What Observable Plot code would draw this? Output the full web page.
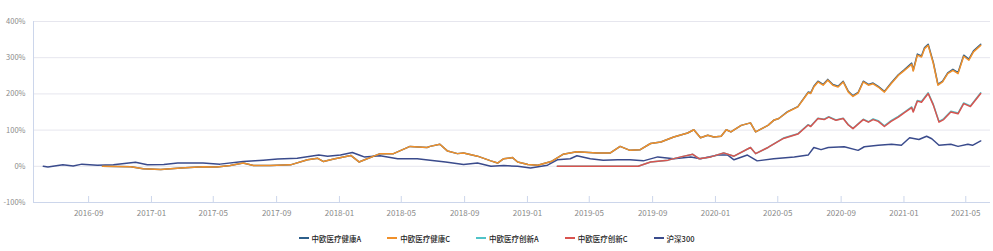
<!DOCTYPE html>
<html><head><meta charset="utf-8">
<script src="https://cdn.jsdelivr.net/npm/d3@7"></script>
<script src="https://cdn.jsdelivr.net/npm/@observablehq/plot@0.6"></script>
<style>
body{margin:0;background:#fff;font-family:"Noto Sans CJK SC","Noto Sans",sans-serif;}
#legend{display:flex;justify-content:center;gap:26px;height:26px;align-items:center;font-size:7.5px;color:#222;width:993px;font-weight:500}
.item{display:flex;align-items:center;gap:3px;white-space:nowrap}
.sw{width:10px;height:2px;display:inline-block}
</style></head><body><div id="chart"></div><div id="legend"></div>
<script>
const seriesNames = ["中欧医疗健康A","中欧医疗健康C","中欧医疗创新A","中欧医疗创新C","沪深300"];
const seriesColors = ["#2d5f8b","#f0902a","#4fc3c8","#d9534f","#3a4b8c"];
const yTicks = [-100,0,100,200,300,400];
const xTickLabels = ["2016-09","2017-01","2017-05","2017-09","2018-01","2018-05","2018-09","2019-01","2019-05","2019-09","2020-01","2020-05","2020-09","2021-01","2021-05"];
const xDomain = ["2016-05-17","2021-06-18"];

const hs300Dates = ["2016-06-05","2016-06-14","2016-07-13","2016-08-02","2016-08-19","2016-09-18","2016-10-19","2016-12-01","2016-12-24","2017-01-25","2017-02-21","2017-04-11","2017-05-14","2017-06-28","2017-08-06","2017-09-03","2017-10-11","2017-11-22","2017-12-09","2018-01-03","2018-01-26","2018-02-12","2018-02-18","2018-03-21","2018-04-24","2018-06-01","2018-06-26","2018-07-26","2018-08-30","2018-09-26","2018-10-22","2018-11-16","2018-12-13","2019-01-07","2019-02-09","2019-02-28","2019-03-25","2019-04-07","2019-05-03","2019-05-28","2019-06-25","2019-07-19","2019-08-14","2019-09-11","2019-10-12","2019-11-14","2019-12-03","2020-01-06","2020-01-25","2020-02-06","2020-03-03","2020-03-22","2020-04-23","2020-06-02","2020-06-29","2020-07-10","2020-07-24","2020-08-07","2020-09-07","2020-10-04","2020-10-16","2020-11-12","2020-12-08","2020-12-27","2021-01-12","2021-01-30","2021-02-14","2021-02-24","2021-03-10","2021-04-02","2021-04-16","2021-05-05","2021-05-14","2021-05-30"];
const hs300Values = [0,-2,4,1,6,3,4,11,4,5,9,9,6,13,17,20,22,31,28,31,38,29,26,29,21,21,17,12,5,9,0,2,0,-5,3,18,21,29,21,17,18,18,15,26,21,26,21,31,31,18,31,15,21,26,31,52,46,52,54,44,54,58,61,58,79,74,83,76,58,61,55,61,58,70];

const healthDates = ["2016-09-28","2016-11-22","2016-12-16","2017-01-19","2017-02-27","2017-04-11","2017-05-08","2017-06-03","2017-06-28","2017-07-18","2017-08-20","2017-09-28","2017-10-31","2017-11-20","2017-12-01","2017-12-21","2018-01-23","2018-02-08","2018-03-21","2018-04-16","2018-05-18","2018-06-20","2018-06-26","2018-07-15","2018-07-30","2018-08-18","2018-08-30","2018-09-26","2018-10-22","2018-11-04","2018-11-16","2018-12-03","2018-12-13","2019-01-02","2019-01-21","2019-02-16","2019-03-11","2019-04-07","2019-05-16","2019-06-11","2019-06-30","2019-07-19","2019-08-08","2019-08-28","2019-09-17","2019-10-12","2019-11-08","2019-11-20","2019-12-03","2019-12-17","2019-12-29","2020-01-12","2020-01-22","2020-01-31","2020-02-20","2020-03-09","2020-03-19","2020-04-12","2020-04-23","2020-05-03","2020-05-20","2020-06-09","2020-06-29","2020-07-04","2020-07-10","2020-07-18","2020-07-28","2020-08-06","2020-08-16","2020-08-26","2020-09-05","2020-09-15","2020-09-24","2020-10-04","2020-10-14","2020-10-24","2020-11-02","2020-11-12","2020-11-24","2020-12-07","2020-12-21","2021-01-02","2021-01-16","2021-01-19","2021-01-27","2021-02-04","2021-02-10","2021-02-17","2021-02-27","2021-03-08","2021-03-17","2021-03-27","2021-04-06","2021-04-16","2021-04-27","2021-05-07","2021-05-16","2021-05-30"];
const healthCValues = [0,-1.5,-7,-9,-5,-1.5,-2,2,9,2,2,4,18,22,13,20,30,12,35,35,55,52,55,61,42,35,37,28,15,9,21,24,12,5,3,13,33,40,37,37,55,44,46,63,67,81,92,101,79,86,81,83,101,95,113,120,95,113,127,132,150,164,203,201,219,233,224,238,224,219,233,205,193,202,233,224,228,219,205,228,251,265,282,263,307,302,325,334,284,224,233,256,265,256,304,293,316,334];
const healthAValues = [0,-1.5,-7,-9,-5,-1.5,-2,2,9,2,2,4,18,22,13,20,30,12,35,35,55,52,55,61,42,35,37,28,15,9,21,24,12,5,3,13,33,40,37,37,55,44,46,63,67,81,92,101,79,86,81,83,101,95,113,120,95,113,127,132,151,165,205,203,221,235,226,240,226,221,235,207,195,204,235,226,230,221,207,230,253,267,285,266,310,305,328,337,287,226,235,258,268,259,307,296,319,337];

const innovDates = ["2019-02-28","2019-05-22","2019-08-04","2019-08-28","2019-10-01","2019-10-26","2019-11-18","2019-11-30","2019-12-23","2020-01-17","2020-02-06","2020-03-09","2020-03-19","2020-04-12","2020-05-12","2020-06-09","2020-06-29","2020-07-04","2020-07-18","2020-07-30","2020-08-08","2020-08-22","2020-09-05","2020-09-15","2020-09-24","2020-10-14","2020-10-24","2020-11-02","2020-11-12","2020-11-24","2020-12-07","2020-12-21","2021-01-02","2021-01-16","2021-01-19","2021-01-27","2021-02-04","2021-02-17","2021-02-27","2021-03-10","2021-03-19","2021-04-02","2021-04-16","2021-04-27","2021-05-10","2021-05-30"];
const innovCValues = [0,0,0,12,17,26,33,21,26,37,28,52,35,52,77,89,114,110,132,129,136,127,132,114,104,129,122,129,124,110,124,136,148,162,150,180,177,201,169,122,129,150,145,173,165,201];
const innovAValues = [0,0,0,12,17,26,33,21,26,37,28,52,35,52,78,90,115,111,133,130,137,128,133,115,105,130,123,131,126,112,126,138,150,164,152,182,179,203,171,124,131,152,147,175,167,203];

const parse = d3.utcParse("%Y-%m-%d");
const mk = (name, dates, vals) => dates.map((d, i) => ({series: name, date: parse(d), value: vals[i]}));
const rows = [
  ...mk("沪深300", hs300Dates, hs300Values),
  ...mk("中欧医疗健康A", healthDates, healthAValues),
  ...mk("中欧医疗健康C", healthDates, healthCValues),
  ...mk("中欧医疗创新A", innovDates, innovAValues),
  ...mk("中欧医疗创新C", innovDates, innovCValues)
];
const xTicks = xTickLabels.map(d3.utcParse("%Y-%m"));
const xStart = parse(xDomain[0]);
const fnt = '"Noto Sans CJK SC","Noto Sans",sans-serif';

const chart = Plot.plot({
  width: 993, height: 225,
  marginLeft: 33, marginRight: 3, marginTop: 21, marginBottom: 23,
  style: {fontFamily: fnt, background: "#fff", color: "#8a8a8a"},
  x: {type: "utc", domain: xDomain.map(parse)},
  y: {domain: [-100, 400]},
  color: {domain: seriesNames, range: seriesColors},
  marks: [
    Plot.ruleY(yTicks, {stroke: "#e6e6ee", strokeWidth: 1}),
    Plot.ruleX([xStart], {stroke: "#ccd6eb"}),
    Plot.ruleY([-100], {stroke: "#ccd6eb"}),
    Plot.tickX(xTicks, {x: d => d, insetTop: 175, stroke: "#ccd6eb"}),
    Plot.axisY(yTicks, {tickSize: 0, tickPadding: 8, fontSize: 7.5, fill: "#8a8a8a", tickFormat: d => d + "%", label: null}),
    Plot.axisX(xTicks, {tickSize: 0, tickPadding: 8, fontSize: 8, fill: "#8a8a8a", tickFormat: d3.utcFormat("%Y-%m"), label: null}),
    Plot.lineY(rows, {x: "date", y: "value", z: "series", stroke: "series", strokeWidth: 1.5})
  ]
});
document.getElementById("chart").appendChild(chart);

const lg = document.getElementById("legend");
seriesNames.forEach((n, i) => {
  const it = document.createElement("div"); it.className = "item";
  const sw = document.createElement("span"); sw.className = "sw"; sw.style.background = seriesColors[i];
  const t = document.createElement("span"); t.textContent = n;
  it.appendChild(sw); it.appendChild(t); lg.appendChild(it);
});
</script></body></html>
